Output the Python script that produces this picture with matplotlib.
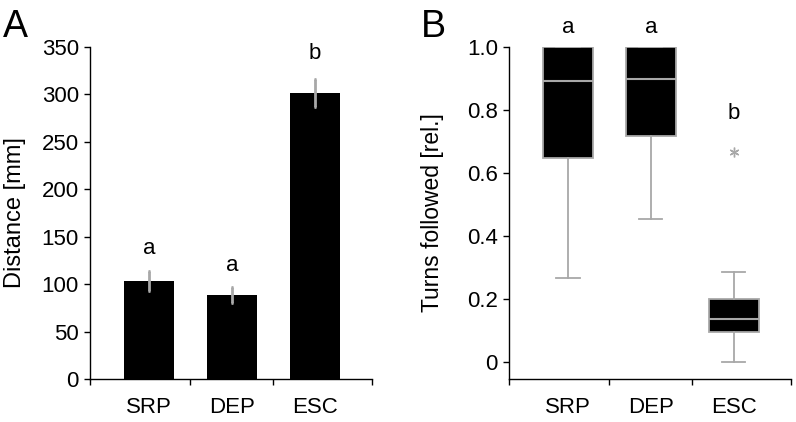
import matplotlib
matplotlib.use("Agg")
import matplotlib.pyplot as plt

plt.rcParams["font.family"] = ["Liberation Sans", "DejaVu Sans"]

# Panel A: distance (mean +/- error)
groups = ["SRP", "DEP", "ESC"]
distance = [103.5, 88.5, 301.0]
dist_err_low = [10.5, 8.0, 14.5]
dist_err_high = [10.5, 8.5, 15.0]
dist_letters = ["a", "a", "b"]
dist_letter_y = [132, 114, 337]

# Panel B: turns followed (box plot stats)
turns_med = [0.892, 0.900, 0.135]
turns_q1 = [0.648, 0.717, 0.096]
turns_q3 = [1.0, 1.0, 0.200]
turns_wlo = [0.268, 0.455, 0.0]
turns_whi = [1.0, 1.0, 0.286]
turns_fliers = [[], [], [0.666]]
turns_letters = ["a", "a", "b"]
turns_letter_y = [1.047, 1.047, 0.771]

GRAY = "#a8a8a8"
x = range(len(groups))
XLIM = (-0.71, 2.69)


def style_xaxis(ax):
    ax.set_xlim(*XLIM)
    ax.set_xticks(list(x))
    ax.set_xticklabels(groups, fontsize=16)
    ax.tick_params(axis="x", which="major", length=0, pad=13)
    ax.set_xticks([XLIM[0], 0.5, 1.5, XLIM[1]], minor=True)
    ax.tick_params(axis="x", which="minor", length=4, width=1, direction="out")
    ax.tick_params(axis="y", length=4, width=1, direction="out", labelsize=16, pad=4)
    for s in ["top", "right"]:
        ax.spines[s].set_visible(False)
    for s in ["left", "bottom"]:
        ax.spines[s].set_linewidth(1)


fig = plt.figure(figsize=(7.96, 4.22), dpi=100)

# ---- A ----
axA = fig.add_axes([90 / 796, 1 - 379 / 422, 282 / 796, 332 / 422])
axA.bar(x, distance, width=0.6, color="black")
axA.errorbar(x, distance, yerr=[dist_err_low, dist_err_high], fmt="none",
             ecolor=GRAY, elinewidth=2, capsize=1, capthick=2)
for i, (t, yy) in enumerate(zip(dist_letters, dist_letter_y)):
    axA.text(i, yy, t, ha="center", va="baseline", fontsize=16)
axA.set_ylim(0, 350)
axA.set_yticks(range(0, 351, 50))
axA.set_ylabel("Distance [mm]", fontsize=17)
axA.yaxis.set_label_coords(-0.228, 0.5)
style_xaxis(axA)

# ---- B ----
axB = fig.add_axes([509 / 796, 1 - 378.5 / 422, 282 / 796, 331.2 / 422])
stats = []
for i in range(len(groups)):
    stats.append(dict(med=turns_med[i], q1=turns_q1[i], q3=turns_q3[i],
                      whislo=turns_wlo[i], whishi=turns_whi[i], fliers=turns_fliers[i]))
axB.bxp(stats, positions=list(x), widths=0.6, capwidths=0.28, patch_artist=True,
        boxprops=dict(facecolor="black", edgecolor=GRAY, linewidth=1.3),
        medianprops=dict(color=GRAY, linewidth=1.5),
        whiskerprops=dict(color=GRAY, linewidth=1.3),
        capprops=dict(color=GRAY, linewidth=1.3),
        flierprops=dict(marker=(6, 2, 0), markersize=7, markeredgewidth=1,
                        markeredgecolor=GRAY, linestyle="none"))
for i, (t, yy) in enumerate(zip(turns_letters, turns_letter_y)):
    axB.text(i, yy, t, ha="center", va="baseline", fontsize=16, clip_on=False)
axB.set_ylim(-0.053, 1.0)
axB.set_yticks([0, 0.2, 0.4, 0.6, 0.8, 1.0])
axB.set_yticklabels(["0", "0.2", "0.4", "0.6", "0.8", "1.0"])
axB.set_ylabel("Turns followed [rel.]", fontsize=16.5)
axB.yaxis.set_label_coords(-0.232, 0.5)
style_xaxis(axB)

fig.text(3 / 796, 1 - 36.7 / 422, "A", fontsize=27, ha="left", va="baseline")
fig.text(421 / 796, 1 - 36.7 / 422, "B", fontsize=27, ha="left", va="baseline")

fig.savefig("out.png", dpi=100)
